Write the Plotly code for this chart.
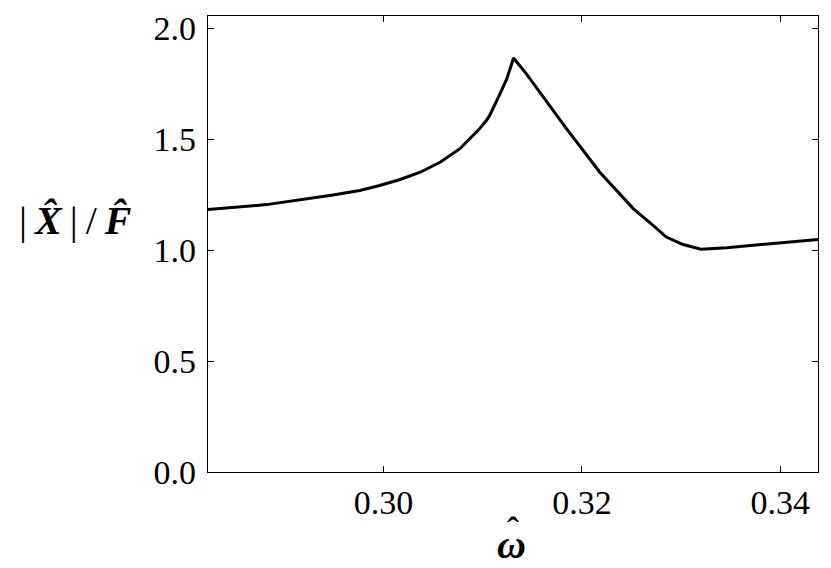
import plotly.graph_objects as go

# frequency response
omega = [0.2823, 0.2882, 0.2949, 0.2976, 0.2996, 0.3016, 0.3037, 0.3057,
         0.3077, 0.3097, 0.3104, 0.3107, 0.3117, 0.3124, 0.3128, 0.3131,
         0.3144, 0.3158, 0.3184, 0.3218, 0.3252, 0.3272, 0.3285,
         0.3302, 0.3320, 0.3346, 0.3377, 0.3438]
amp = [1.183, 1.205, 1.248, 1.269, 1.291, 1.317, 1.351, 1.396,
       1.457, 1.548, 1.586, 1.607, 1.701, 1.769, 1.823, 1.866,
       1.794, 1.708, 1.550, 1.351, 1.186, 1.110, 1.059,
       1.025, 1.004, 1.011, 1.024, 1.048]

xticks = [0.30, 0.32, 0.34]
yticks = [0.0, 0.5, 1.0, 1.5, 2.0]

font_name = "Liberation Serif"

fig = go.Figure()
fig.add_trace(go.Scatter(x=omega, y=amp, mode="lines",
                         line=dict(color="black", width=3), showlegend=False))

axis_style = dict(showline=True, linecolor="black", linewidth=1.3, mirror="ticks",
                  ticks="inside", ticklen=6, tickwidth=1.2, tickcolor="black",
                  showgrid=False, zeroline=False, automargin=False,
                  tickfont=dict(family=font_name, size=34, color="black"))

fig.update_xaxes(range=[0.2823, 0.3438], tickvals=xticks,
                 ticktext=[f"{v:.2f}" for v in xticks], **axis_style)
fig.update_yaxes(range=[0, 2.055], tickvals=yticks,
                 ticktext=[f"{v:.1f}" for v in yticks], ticklabelstandoff=4, **axis_style)

# horizontal axis labels
fig.add_annotation(text="|\u2009<b><i>X\u0302</i></b>\u2009|\u2009/\u2009<b><i>F\u0302</i></b>",
                   xref="paper", yref="paper",
                   x=-0.217, y=0.551, xanchor="center", yanchor="middle", showarrow=False,
                   font=dict(family=font_name, size=40, color="black"))
fig.add_annotation(text="<b><i>\u03c9</i></b>", xref="paper", yref="paper",
                   x=0.4975, y=-0.158, xanchor="center", yanchor="middle", showarrow=False,
                   font=dict(family=font_name, size=40, color="black"))
fig.add_annotation(text="<b>\u02c6</b>", xref="paper", yref="paper",
                   x=0.500, y=-0.128, xanchor="center", yanchor="middle", showarrow=False,
                   font=dict(family=font_name, size=36, color="black"))

# the page puts the plot 8 px in from the top-left corner
fig.update_layout(width=823, height=560, margin=dict(l=200, r=13, t=8, b=96),
                  plot_bgcolor="white", paper_bgcolor="white")

fig.write_html("out.html")
